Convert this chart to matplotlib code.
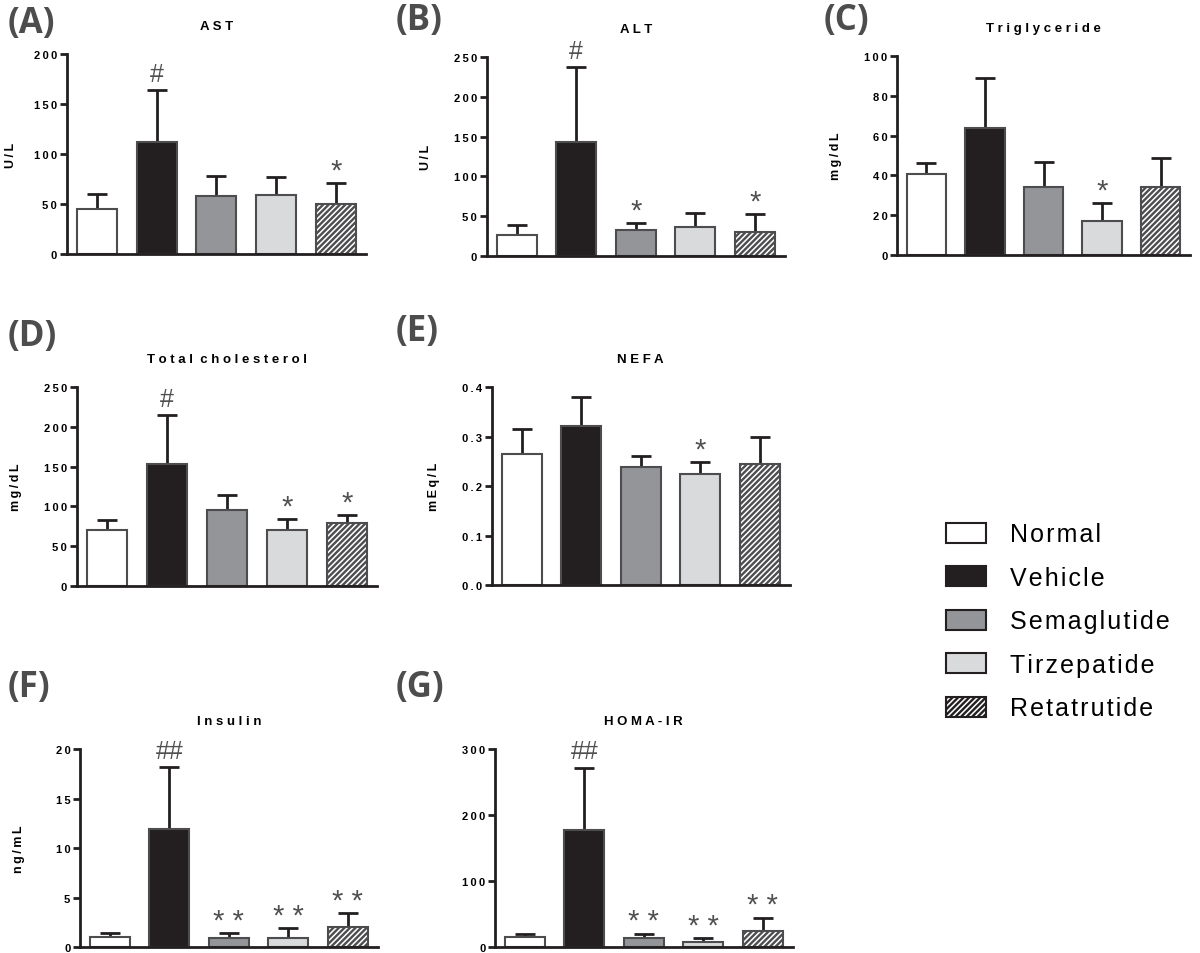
import numpy as np
import matplotlib
matplotlib.use("Agg")
import matplotlib.pyplot as plt
from matplotlib.patches import Patch
from matplotlib.ticker import FuncFormatter

plt.rcParams['font.family'] = ['Liberation Sans', 'DejaVu Sans']
plt.rcParams['hatch.linewidth'] = 1.7
plt.rcParams['hatch.color'] = '#1a1a1a'

groups = ['Normal', 'Vehicle', 'Semaglutide', 'Tirzepatide', 'Retatrutide']

# mean and SD per panel
ast_mean = [45, 112, 58, 59, 50]
ast_sd = [15, 52, 20, 18, 21]
ast_sig = ['', '#', '', '', '*']

alt_mean = [27, 143, 33, 37, 30]
alt_sd = [12, 94, 8, 17, 23]
alt_sig = ['', '#', '*', '', '*']

tg_mean = [40.5, 64, 34, 17, 34]
tg_sd = [5.5, 25, 12.5, 9, 14.5]
tg_sig = ['', '', '', '*', '']

tc_mean = [70, 153, 96, 70, 79]
tc_sd = [13, 62, 18, 14, 10]
tc_sig = ['', '#', '', '*', '*']

nefa_mean = [0.265, 0.322, 0.238, 0.224, 0.245]
nefa_sd = [0.051, 0.058, 0.022, 0.025, 0.055]
nefa_sig = ['', '', '', '*', '']

ins_mean = [1.0, 11.9, 0.9, 0.95, 2.0]
ins_sd = [0.4, 6.3, 0.5, 0.95, 1.4]
ins_sig = ['', '##', '**', '**', '**']

homa_mean = [15, 178, 13, 7, 24]
homa_sd = [5, 94, 7, 6, 20]
homa_sig = ['', '##', '**', '**', '**']

fills = ['white', '#231f20', '#939598', '#d9dadb', 'white']
hatches = [None, None, None, None, '//////']
edge = '#4d4d4f'


def spaced(s, sep=' ', word=' ' * 2):
    return word.join(sep.join(w) for w in s.split(' '))


def tick_fmt(decimals):
    def f(v, pos):
        return spaced(f'{v:.{decimals}f}', '\u2009')
    return FuncFormatter(f)


def panel(rect, mean, sd, sig, title, ylabel, ymax, step, decimals, letter, letter_xy, labelpad):
    ax = fig.add_axes(rect)
    x = np.arange(len(groups))
    ax.bar(x, mean, width=0.67, color=fills, edgecolor=edge, linewidth=1.5,
           hatch=hatches, zorder=2)
    ax.errorbar(x, mean, yerr=[np.zeros(len(mean)), sd], fmt='none',
                ecolor='#231f20', elinewidth=2, capsize=7, capthick=2, zorder=1)
    for xi, m, s, t in zip(x, mean, sd, sig):
        if t:
            star = '*' in t
            ax.annotate(t.replace('**', '* *'), (xi, m + s), xytext=(0, -1 if star else 3),
                        textcoords='offset points', ha='center', va='bottom',
                        fontsize=21 if star else 18, color='#505052')
    ax.set_xlim(-0.5, 4.5)
    ax.set_ylim(0, ymax)
    ax.set_yticks(np.arange(0, ymax + step / 2, step))
    ax.yaxis.set_major_formatter(tick_fmt(decimals))
    ax.set_xticks([])
    for side in ['top', 'right']:
        ax.spines[side].set_visible(False)
    for side in ['left', 'bottom']:
        ax.spines[side].set_linewidth(2)
        ax.spines[side].set_color('#231f20')
    ax.tick_params(axis='y', length=5, width=2, color='#231f20', pad=2)
    for lb in ax.get_yticklabels():
        lb.set_fontweight('bold')
        lb.set_fontsize(8)
    ax.set_title(spaced(title), fontsize=9.5, fontweight='bold', pad=18)
    if ylabel:
        ax.set_ylabel(spaced(ylabel, '\u2009', ' '), fontsize=9, fontweight='bold',
                      labelpad=labelpad)
    fig.text(letter_xy[0] / 1200, 1 - letter_xy[1] / 954, letter, fontsize=25,
             fontweight='bold', color='#4d4d4d', ha='left', va='top',
             family=['Open Sans', 'DejaVu Sans'])
    return ax


fig = plt.figure(figsize=(12, 9.54), dpi=100)

panel([0.0558, 0.7327, 0.249, 0.2096], ast_mean, ast_sd, ast_sig, 'AST', 'U/L',
      200, 50, 0, '(A)', (8, 6), 12)
panel([0.4058, 0.7306, 0.248, 0.2086], alt_mean, alt_sd, alt_sig, 'ALT', 'U/L',
      250, 50, 0, '(B)', (396, 3), 16)
panel([0.7475, 0.7317, 0.2442, 0.2086], tg_mean, tg_sd, tg_sig, 'Triglyceride', 'mg/dL',
      100, 20, 0, '(C)', (824, 3), 16)
panel([0.0640, 0.3847, 0.250, 0.2086], tc_mean, tc_sd, tc_sig, 'Total cholesterol', 'mg/dL',
      250, 50, 0, '(D)', (8, 319), 16)
panel([0.4100, 0.3857, 0.248, 0.2076], nefa_mean, nefa_sd, nefa_sig, 'NEFA', 'mEq/L',
      0.4, 0.1, 1, '(E)', (396, 314), 16)
panel([0.0667, 0.0063, 0.248, 0.2075], ins_mean, ins_sd, ins_sig, 'Insulin', 'ng/mL',
      20, 5, 0, '(F)', (8, 670), 22)
panel([0.4125, 0.0063, 0.248, 0.2075], homa_mean, homa_sd, homa_sig, 'HOMA-IR', None,
      300, 100, 0, '(G)', (396, 670), 16)

handles = [Patch(facecolor=f, edgecolor='#231f20', linewidth=1.5, hatch=h)
           for f, h in zip(fills, hatches)]
fig.legend(handles, [spaced(g, '\u200a') for g in groups], loc='upper left',
           bbox_to_anchor=(923 / 1200, 1 - 501 / 954), frameon=False, fontsize=18,
           handlelength=1.6, handleheight=0.85, labelspacing=0.78, handletextpad=1.0)

fig.savefig('out.png', dpi=100)
